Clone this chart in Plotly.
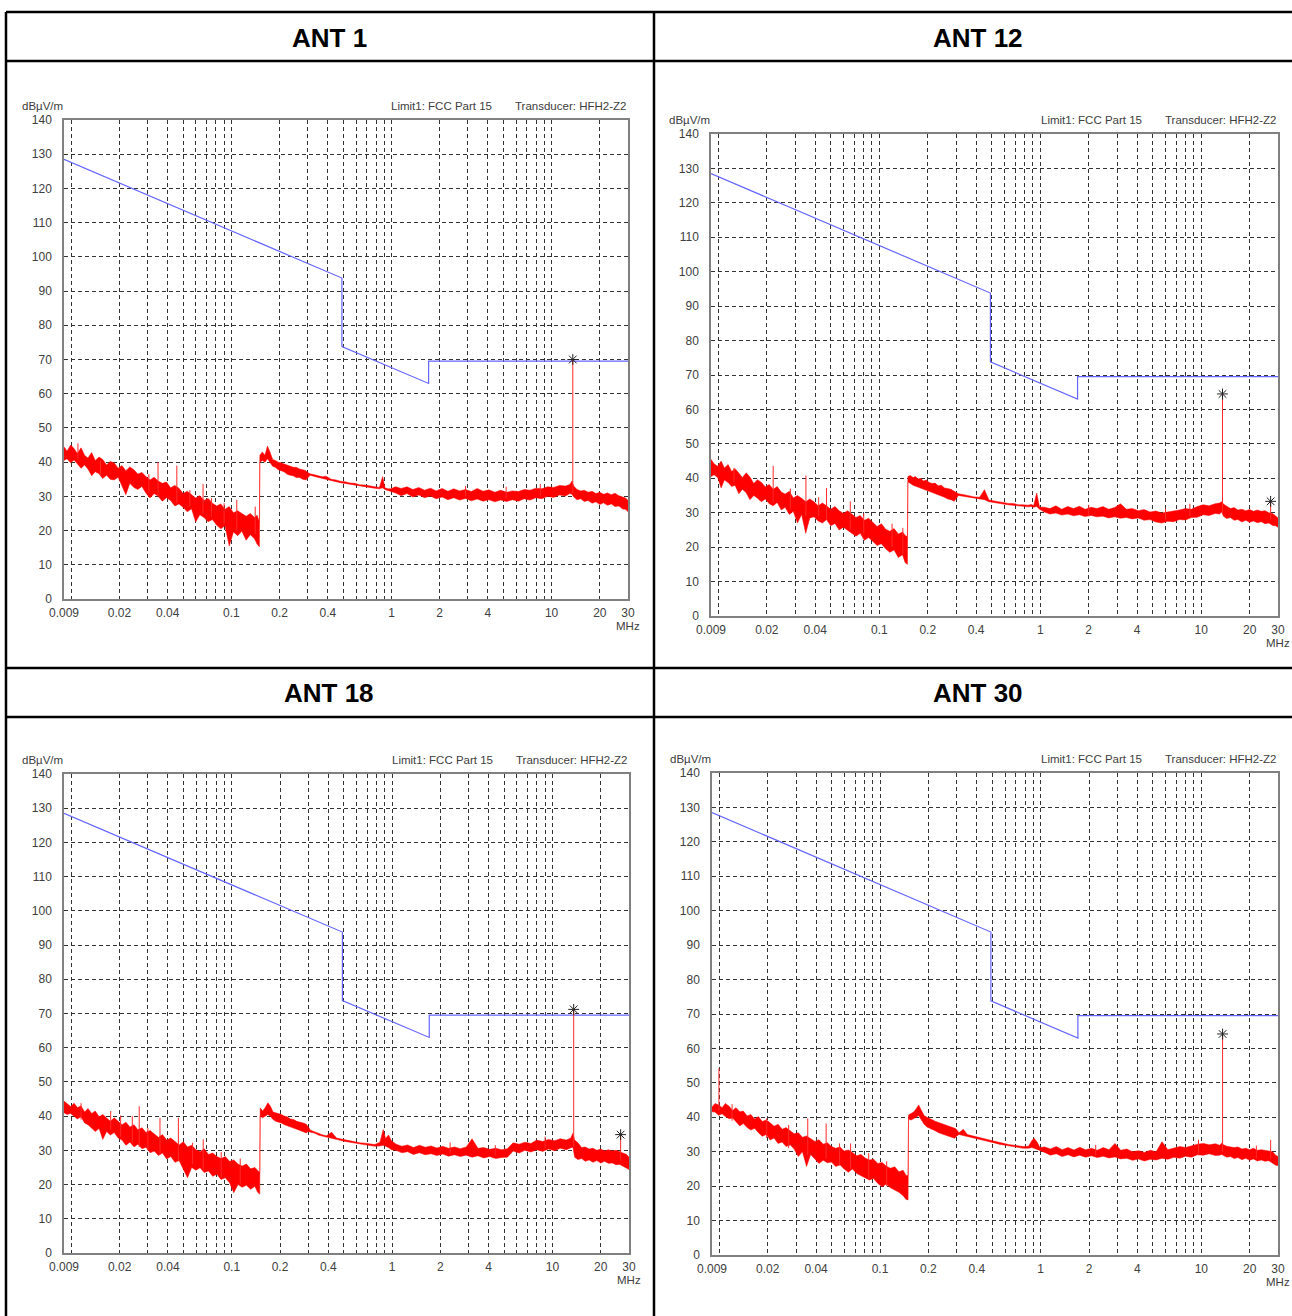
import math
import plotly.graph_objects as go

W, H = 1292, 1316

# ---------------- data ----------------
# sweep frequencies (MHz) at which the noise band envelope was read
freq_grid = [
    0.009, 0.0094, 0.0099, 0.0104, 0.0109, 0.0115, 0.0121, 0.0127, 0.0134, 0.0141,
    0.0149, 0.0157, 0.0166, 0.0175, 0.0185, 0.0196, 0.0207, 0.0219, 0.0232, 0.0246,
    0.026, 0.0276, 0.0292, 0.031, 0.0329, 0.0349, 0.037, 0.0393, 0.0417, 0.0443,
    0.047, 0.0499, 0.053, 0.0563, 0.0598, 0.0635, 0.0674, 0.0716, 0.0761, 0.0808,
    0.0858, 0.0912, 0.0969, 0.103, 0.1094, 0.1162, 0.1235, 0.1312, 0.1394, 0.1448,
    0.1495,
    0.1505, 0.156, 0.162, 0.168, 0.174, 0.181, 0.188, 0.196, 0.204, 0.213,
    0.222, 0.232, 0.243, 0.254, 0.266, 0.279, 0.292, 0.299,
    0.31, 0.33, 0.35, 0.37, 0.39, 0.42, 0.45, 0.48, 0.51, 0.55,
    0.59, 0.63, 0.68, 0.73, 0.78, 0.84, 0.88, 0.91, 0.95, 0.99,
    1.06, 1.15, 1.25, 1.36, 1.48, 1.61, 1.75, 1.9, 2.07, 2.25,
    2.45, 2.66, 2.9, 3.15, 3.43, 3.73, 4.06, 4.42, 4.81, 5.23,
    5.69, 6.19, 6.74, 7.33, 7.98, 8.68, 9.45, 10.3, 11.2, 12.2,
    13.0, 13.4,
    13.75, 14.4, 15.2, 16.0, 16.9, 17.9, 18.9, 20.0, 21.1, 22.3,
    23.6, 24.9, 26.3, 27.8, 29.0, 30.0,
]

# ANT 1 (dBuV/m) upper / lower edge of the measured trace
ant1_upper = [
    44.5, 43.2, 45.0, 44.0, 42.5, 44.2, 42.0, 41.2, 42.8, 40.5,
    41.5, 40.8, 39.2, 40.2, 39.8, 38.2, 39.0, 37.5, 38.6, 37.8,
    36.5, 37.0, 35.8, 34.8, 35.6, 34.5, 33.8, 34.2, 32.5, 33.2,
    32.4, 30.8, 31.5, 30.6, 29.5, 30.2, 28.8, 29.4, 28.0, 27.2,
    27.8, 26.2, 27.0, 25.2, 25.8, 25.0, 24.2, 25.0, 23.8, 24.5,
    22.5,
    42.0, 43.0, 42.0, 44.7, 43.0, 40.8, 40.5, 40.0, 39.8, 39.5,
    39.2, 38.8, 38.5, 38.5, 38.0, 37.8, 37.5, 37.0,
    36.6, 36.3, 35.9, 35.7, 35.9, 35.0, 34.8, 34.4, 34.3, 33.9,
    33.8, 33.4, 33.3, 33.0, 32.9, 32.6, 35.8, 32.5, 32.2, 32.2,
    32.8, 32.3, 32.8, 32.0, 32.6, 31.8, 32.4, 31.6, 32.3, 31.5,
    32.2, 31.6, 32.0, 31.4, 32.3, 31.5, 31.9, 31.2, 31.8, 31.2,
    31.6, 31.4, 32.0, 31.8, 32.4, 32.2, 32.8, 32.6, 33.2, 33.0,
    33.5, 34.5,
    33.0, 32.0, 31.6, 31.8, 31.2, 31.5, 30.8, 31.2, 30.6, 31.0,
    30.5, 30.9, 30.2, 29.8, 29.5, 28.8,
]
ant1_lower = [
    40.5, 41.0, 39.8, 40.6, 39.5, 38.2, 39.2, 38.0, 36.0, 37.2,
    36.6, 35.2, 36.2, 35.0, 34.8, 35.6, 33.2, 30.5, 33.8, 32.6,
    32.0, 32.9, 31.0, 29.5, 30.8, 30.0, 28.6, 29.6, 28.8, 27.2,
    27.8, 26.8, 25.5, 26.4, 22.5, 24.6, 23.8, 22.6, 23.2, 21.6,
    20.5, 21.4, 15.5, 19.6, 18.5, 19.8, 17.2, 18.8, 17.6, 16.0,
    15.3,
    40.0, 40.5, 40.0, 41.0, 40.0, 38.8, 38.5, 37.8, 37.5, 37.2,
    36.5, 36.2, 36.0, 35.5, 35.5, 35.0, 34.8, 35.5,
    36.2, 35.8, 35.5, 35.2, 35.0, 34.6, 34.3, 34.0, 33.8, 33.5,
    33.3, 33.0, 32.8, 32.6, 32.4, 32.2, 32.5, 32.0, 31.6, 31.5,
    31.0, 30.2, 30.8, 29.8, 30.4, 29.6, 30.1, 29.3, 29.8, 29.0,
    29.6, 28.9, 29.4, 28.7, 29.2, 28.6, 29.0, 28.4, 28.9, 28.5,
    29.0, 28.6, 29.3, 28.9, 29.6, 29.3, 30.0, 29.7, 30.4, 30.1,
    30.8, 30.6,
    29.8, 29.0, 29.3, 28.5, 28.8, 28.0, 28.4, 27.6, 28.1, 27.4,
    27.8, 27.0, 27.2, 26.3, 26.2, 25.5,
]
ant1_spike_freq = [0.011, 0.0152, 0.0305, 0.0348, 0.0456, 0.055, 0.0665, 0.075,
                   0.09, 0.108, 0.1408, 2.9, 5.2, 8.5, 13.56]
ant1_spike_base = [41.0, 36.0, 31.0, 30.0, 28.0, 27.0, 25.0, 24.0,
                   22.0, 20.0, 19.0, 30.0, 29.5, 30.0, 31.0]
ant1_spike_top = [45.5, 40.4, 36.5, 40.0, 39.0, 31.8, 33.6, 29.5,
                  28.0, 29.0, 27.0, 33.0, 32.8, 33.6, 70.0]
ant1_marker_freq = [13.56]
ant1_marker_level = [70.0]

# ANT 12
ant12_upper = [
    45.5, 44.2, 43.5, 45.0, 43.0, 44.0, 42.0, 42.8, 41.5, 40.2,
    41.6, 40.4, 38.5, 39.6, 38.8, 37.5, 38.2, 36.8, 37.6, 36.0,
    35.4, 36.2, 34.3, 35.0, 34.2, 33.2, 34.0, 33.2, 32.0, 32.8,
    32.0, 31.0, 31.8, 30.6, 29.8, 30.6, 29.6, 28.6, 29.2, 27.8,
    28.4, 27.2, 26.0, 26.8, 25.2, 24.6, 25.4, 23.8, 24.4, 23.4,
    23.0,
    40.5, 40.8, 40.2, 40.5, 39.8, 40.0, 39.2, 39.5, 38.8, 38.5,
    38.6, 37.8, 38.0, 37.2, 37.0, 36.8, 36.2, 36.0,
    35.5, 35.3, 35.0, 34.9, 34.6, 34.5, 36.7, 33.7, 33.4, 33.2,
    33.0, 32.7, 32.7, 32.3, 32.3, 32.2, 32.4, 32.1, 35.7, 31.6,
    31.6, 31.2, 32.0, 31.0, 31.8, 31.2, 31.9, 31.0, 31.6, 31.2,
    31.8, 31.0, 31.5, 32.6, 31.0, 31.2, 30.6, 30.9, 30.2, 30.5,
    29.9, 30.3, 30.5, 30.8, 31.2, 31.0, 31.8, 32.3, 32.0, 32.6,
    32.8, 33.2,
    32.5, 31.9, 31.2, 31.5, 30.8, 31.0, 30.6, 30.9, 30.4, 30.8,
    30.4, 30.6, 30.0, 29.8, 29.2, 28.5,
]
ant12_lower = [
    40.5, 41.0, 40.2, 37.2, 39.5, 38.8, 37.6, 38.0, 35.5, 36.8,
    35.8, 33.8, 35.0, 34.2, 33.2, 34.0, 32.6, 32.0, 33.0, 30.8,
    31.6, 29.5, 30.4, 27.0, 29.5, 24.0, 28.5, 28.8, 27.6, 27.0,
    28.0, 26.2, 26.9, 25.0, 25.8, 24.8, 24.0, 23.2, 24.0, 22.0,
    22.8, 21.6, 20.5, 21.0, 19.5, 18.5, 19.2, 17.0, 17.8, 15.5,
    15.0,
    39.0, 38.5, 38.0, 37.8, 37.5, 37.2, 36.8, 36.5, 36.2, 35.8,
    35.5, 35.2, 34.8, 34.5, 34.0, 33.8, 33.3, 34.0,
    35.0, 34.8, 34.6, 34.4, 34.2, 34.0, 33.8, 33.2, 33.0, 32.8,
    32.5, 32.3, 32.2, 31.9, 31.8, 31.7, 31.8, 31.6, 31.8, 31.0,
    30.2, 29.6, 29.9, 29.3, 29.6, 29.1, 29.4, 28.9, 29.2, 28.8,
    29.0, 28.5, 28.8, 28.4, 28.6, 28.2, 28.5, 27.8, 28.0, 27.3,
    27.0, 27.5, 27.4, 28.0, 27.9, 28.6, 28.7, 29.4, 29.2, 29.8,
    29.6, 30.2,
    29.0, 28.3, 28.6, 27.8, 28.0, 27.3, 27.8, 27.2, 27.6, 27.1,
    27.4, 26.8, 27.0, 26.3, 26.2, 25.8,
]
ant12_spike_freq = [0.0125, 0.0219, 0.028, 0.035, 0.042, 0.047, 0.066, 0.08,
                    0.12, 0.14, 2.0, 6.0, 8.5, 13.56, 27.0]
ant12_spike_base = [39.0, 33.0, 31.0, 29.0, 29.0, 28.0, 25.0, 24.0,
                    20.0, 18.0, 29.0, 28.0, 29.0, 30.0, 28.0]
ant12_spike_top = [43.0, 43.6, 37.0, 40.8, 34.5, 37.2, 33.3, 29.8,
                   26.8, 25.6, 32.3, 31.2, 32.6, 64.5, 33.3]
ant12_marker_freq = [13.56, 27.0]
ant12_marker_level = [64.5, 33.3]

# ANT 18
ant18_upper = [
    44.4, 43.6, 42.8, 43.8, 42.5, 43.0, 41.2, 42.2, 40.8, 41.5,
    39.8, 40.5, 39.6, 38.5, 39.5, 38.6, 37.5, 38.2, 36.8, 37.5,
    36.0, 36.6, 35.2, 35.8, 34.8, 33.8, 34.6, 33.0, 33.6, 32.6,
    31.6, 32.5, 31.0, 31.5, 30.2, 29.6, 30.5, 28.8, 29.2, 28.2,
    27.6, 28.2, 26.8, 27.2, 26.0, 25.4, 26.0, 24.6, 25.0, 24.2,
    23.5,
    42.4, 41.5, 42.5, 43.9, 43.0, 41.2, 41.0, 40.8, 40.5, 40.0,
    39.8, 39.2, 39.0, 38.5, 38.3, 38.0, 37.6, 37.0,
    35.9, 35.4, 34.9, 34.5, 34.3, 35.3, 33.6, 33.3, 33.1, 32.7,
    32.5, 32.2, 32.1, 31.8, 31.7, 32.4, 36.1, 33.5, 34.5, 32.8,
    31.8, 31.2, 31.6, 30.8, 31.5, 30.9, 31.3, 30.7, 31.2, 30.6,
    31.0, 30.5, 31.0, 33.4, 30.6, 30.8, 30.3, 30.6, 30.2, 30.5,
    32.2, 31.8, 32.4, 32.0, 33.0, 32.6, 33.2, 32.8, 33.4, 33.0,
    33.6, 35.0,
    33.0, 32.2, 30.8, 31.0, 30.4, 30.6, 30.0, 30.4, 29.8, 30.2,
    29.8, 30.0, 29.6, 29.2, 28.8, 28.0,
]
ant18_lower = [
    41.0, 40.5, 40.8, 40.0, 39.2, 39.8, 38.0, 37.5, 36.6, 35.5,
    36.4, 33.2, 35.5, 34.5, 35.2, 33.6, 33.0, 31.5, 32.4, 31.0,
    31.8, 30.5, 30.9, 29.3, 29.8, 28.5, 29.2, 27.5, 28.2, 26.5,
    27.0, 24.5, 22.0, 25.0, 24.2, 24.9, 23.5, 24.0, 22.4, 23.0,
    21.5, 22.0, 20.5, 17.6, 20.0, 19.2, 19.8, 18.6, 19.5, 17.8,
    17.2,
    40.0, 39.5, 40.0, 40.5, 40.0, 39.0, 38.5, 38.2, 38.0, 37.5,
    37.2, 36.8, 36.5, 36.2, 36.0, 35.5, 35.1, 35.5,
    35.4, 35.0, 34.4, 34.0, 33.8, 33.6, 33.2, 32.9, 32.6, 32.3,
    32.0, 31.8, 31.6, 31.4, 31.2, 31.3, 31.5, 31.2, 30.8, 30.2,
    30.0, 29.3, 29.6, 28.8, 29.3, 28.7, 29.0, 28.5, 28.9, 28.3,
    28.7, 28.2, 28.6, 28.0, 28.4, 27.8, 28.2, 27.6, 27.9, 28.0,
    29.8, 29.2, 30.0, 29.5, 30.2, 29.7, 30.4, 29.9, 30.6, 30.2,
    30.8, 31.0,
    28.0, 27.3, 27.6, 26.8, 27.2, 26.5, 27.0, 26.3, 26.8, 26.2,
    26.3, 25.8, 25.9, 25.2, 24.8, 24.4,
]
ant18_spike_freq = [0.0115, 0.0176, 0.0203, 0.024, 0.0265, 0.03, 0.0357, 0.0465,
                    0.057, 0.0664, 0.086, 0.113, 2.3, 4.4, 9.0, 13.56, 26.6]
ant18_spike_base = [39.0, 36.0, 34.0, 32.0, 31.0, 30.0, 29.0, 27.0,
                    26.0, 24.0, 22.0, 20.0, 29.0, 28.5, 30.5, 31.0, 27.0]
ant18_spike_top = [43.8, 41.5, 40.2, 40.0, 42.9, 36.5, 39.5, 39.5,
                   32.2, 33.2, 29.5, 27.6, 32.3, 31.5, 34.0, 71.2, 34.6]
ant18_marker_freq = [13.56, 26.6]
ant18_marker_level = [71.2, 34.6]

# ANT 30
ant30_upper = [
    43.0, 44.0, 43.6, 42.8, 44.0, 43.2, 42.0, 42.8, 41.6, 41.8,
    40.4, 40.8, 39.5, 40.2, 38.8, 39.2, 38.4, 37.4, 38.0, 36.5,
    37.0, 36.0, 35.2, 35.5, 34.2, 34.6, 33.8, 33.0, 33.5, 32.2,
    32.6, 31.5, 31.0, 31.4, 30.2, 30.5, 29.8, 28.8, 29.2, 28.2,
    27.6, 27.8, 26.6, 26.9, 25.8, 25.2, 25.6, 24.2, 24.6, 23.2,
    23.0,
    40.7, 41.1, 41.5, 42.5, 43.6, 42.0, 40.5, 40.0, 39.7, 39.2,
    38.8, 38.5, 38.2, 37.8, 37.5, 37.2, 36.8, 36.5,
    35.5, 36.5, 35.0, 34.7, 34.4, 34.1, 33.7, 33.4, 33.1, 32.7,
    32.4, 32.1, 31.9, 31.7, 31.5, 31.6, 33.2, 33.9, 32.8, 31.2,
    31.4, 30.8, 31.5, 30.6, 31.2, 30.5, 31.3, 30.6, 31.0, 30.4,
    31.2, 30.6, 32.4, 30.4, 30.8, 30.0, 30.3, 29.8, 30.4, 30.0,
    32.9, 30.6, 31.0, 31.5, 31.2, 31.8, 32.2, 32.4, 32.0, 32.3,
    31.9, 32.5,
    32.0, 31.6, 31.5, 31.2, 31.4, 30.8, 31.0, 30.6, 31.0, 30.4,
    30.6, 30.5, 30.2, 30.0, 29.0, 28.6,
]
ant30_lower = [
    41.6, 41.5, 40.6, 41.0, 40.2, 39.6, 39.8, 38.7, 37.5, 38.2,
    37.0, 36.3, 36.8, 35.5, 34.5, 35.0, 33.4, 34.0, 32.4, 32.8,
    31.5, 32.0, 30.8, 28.6, 30.0, 25.7, 29.2, 28.0, 26.6, 27.5,
    26.8, 27.0, 25.7, 26.2, 25.0, 24.0, 25.0, 23.7, 23.0, 22.5,
    21.8, 22.2, 20.8, 19.8, 20.6, 19.5, 18.8, 18.2, 17.2, 16.2,
    16.0,
    39.5, 39.2, 39.5, 40.0, 40.5, 39.2, 38.0, 37.2, 36.8, 36.5,
    36.0, 35.5, 35.2, 34.8, 34.5, 34.2, 33.9, 34.5,
    35.0, 34.8, 34.5, 34.2, 33.9, 33.6, 33.2, 32.9, 32.6, 32.2,
    31.9, 31.6, 31.4, 31.2, 31.0, 31.0, 31.2, 31.0, 30.8, 30.4,
    29.8, 29.0, 29.4, 28.6, 29.1, 28.5, 29.0, 28.4, 28.8, 28.3,
    28.7, 28.2, 28.5, 27.9, 28.1, 27.5, 27.9, 27.3, 27.8, 27.6,
    28.1, 27.8, 28.4, 28.1, 28.7, 28.4, 29.1, 29.0, 29.4, 28.9,
    29.0, 29.2,
    29.0, 28.4, 28.6, 28.0, 28.3, 27.7, 28.1, 27.5, 27.9, 27.3,
    27.6, 27.2, 27.4, 26.7, 26.1, 26.0,
]
ant30_spike_freq = [0.00994, 0.012, 0.0197, 0.027, 0.0355, 0.0462, 0.056, 0.0656,
                    0.085, 0.11, 2.2, 9.6, 13.56, 22.0, 27.0]
ant30_spike_base = [42.0, 39.0, 34.0, 31.0, 29.0, 28.0, 26.0, 25.0,
                    22.0, 20.0, 29.0, 29.5, 30.0, 28.0, 28.0]
ant30_spike_top = [54.2, 43.8, 39.7, 37.8, 39.7, 38.2, 32.4, 32.4,
                   29.6, 27.2, 32.0, 33.5, 64.2, 31.8, 33.4]
ant30_marker_freq = [13.56]
ant30_marker_level = [64.2]

# Limit1: FCC Part 15
limit_freq = [0.009, 0.49, 0.49, 1.705, 1.705, 30.0]
limit_level = [128.5, 93.8, 73.8, 63.0, 69.5, 69.5]

# axes
x_tick_vals = [0.009, 0.01, 0.02, 0.03, 0.04, 0.05, 0.06, 0.07, 0.08, 0.09,
               0.1, 0.2, 0.3, 0.4, 0.5, 0.6, 0.7, 0.8, 0.9,
               1, 2, 3, 4, 5, 6, 7, 8, 9, 10, 20, 30]
x_tick_text = ["0.009", "", "0.02", "", "0.04", "", "", "", "", "",
               "0.1", "0.2", "", "0.4", "", "", "", "", "",
               "1", "2", "", "4", "", "", "", "", "", "10", "20", "30"]
y_tick_vals = [0, 10, 20, 30, 40, 50, 60, 70, 80, 90, 100, 110, 120, 130, 140]
y_tick_text = ["0", "10", "20", "30", "40", "50", "60", "70", "80", "90",
               "100", "110", "120", "130", "140"]
panel_titles = ["ANT 1", "ANT 12", "ANT 18", "ANT 30"]
unit_label = "dBµV/m"
limit_label = "Limit1: FCC Part 15"
transducer_label = "Transducer: HFH2-Z2"
freq_unit = "MHz"

for arr in (ant1_upper, ant1_lower, ant12_upper, ant12_lower,
            ant18_upper, ant18_lower, ant30_upper, ant30_lower):
    assert len(arr) == len(freq_grid), len(arr)

# ---------------- layout helpers ----------------
def px(x):
    return x / W


def py(y):
    return 1 - y / H


FONT = "Liberation Sans, Arial, sans-serif"

panels = [
    dict(title=panel_titles[0], up=ant1_upper, lo=ant1_lower,
         sf=ant1_spike_freq, sb=ant1_spike_base, st=ant1_spike_top,
         mf=ant1_marker_freq, ml=ant1_marker_level,
         box=(64, 628, 120, 599), tpos=(329, 38)),
    dict(title=panel_titles[1], up=ant12_upper, lo=ant12_lower,
         sf=ant12_spike_freq, sb=ant12_spike_base, st=ant12_spike_top,
         mf=ant12_marker_freq, ml=ant12_marker_level,
         box=(711, 1278, 134, 616), tpos=(978, 38)),
    dict(title=panel_titles[2], up=ant18_upper, lo=ant18_lower,
         sf=ant18_spike_freq, sb=ant18_spike_base, st=ant18_spike_top,
         mf=ant18_marker_freq, ml=ant18_marker_level,
         box=(64, 629, 774, 1253), tpos=(329, 693)),
    dict(title=panel_titles[3], up=ant30_upper, lo=ant30_lower,
         sf=ant30_spike_freq, sb=ant30_spike_base, st=ant30_spike_top,
         mf=ant30_marker_freq, ml=ant30_marker_level,
         box=(712, 1278, 773, 1255), tpos=(978, 693)),
]

fig = go.Figure()
axes = {}
annotations = []
shapes = []

for i, p in enumerate(panels, start=1):
    xa = "x" if i == 1 else f"x{i}"
    ya = "y" if i == 1 else f"y{i}"
    left, right, top, bottom = p["box"]

    fig.add_trace(go.Scatter(
        x=limit_freq, y=limit_level, mode="lines",
        line=dict(color="#6666ff", width=1.2),
        xaxis=xa, yaxis=ya, showlegend=False, hoverinfo="skip"))

    fig.add_trace(go.Scatter(
        x=freq_grid + freq_grid[::-1], y=p["up"] + p["lo"][::-1],
        mode="lines", fill="toself", fillcolor="#ff0000",
        line=dict(color="#ff0000", width=0.5),
        xaxis=xa, yaxis=ya, showlegend=False, hoverinfo="skip"))

    sx, sy = [], []
    for f, b, t in zip(p["sf"], p["sb"], p["st"]):
        sx += [f, f, None]
        sy += [b, t, None]
    fig.add_trace(go.Scatter(
        x=sx, y=sy, mode="lines", line=dict(color="#ff2a2a", width=1),
        xaxis=xa, yaxis=ya, showlegend=False, hoverinfo="skip"))

    fig.add_trace(go.Scatter(
        x=p["mf"], y=p["ml"], mode="markers",
        marker=dict(symbol="asterisk-open", size=9, color="#222222",
                    line=dict(color="#222222", width=1.0)),
        xaxis=xa, yaxis=ya, showlegend=False, hoverinfo="skip"))

    common = dict(showgrid=True, gridcolor="#333333", gridwidth=1,
                  griddash="4px,3px", showline=True, mirror=True,
                  linecolor="#808080", linewidth=1.5, zeroline=False,
                  ticks="", tickfont=dict(family=FONT, size=12, color="#404040"))
    axes["xaxis" + ("" if i == 1 else str(i))] = dict(
        type="log", range=[math.log10(0.009), math.log10(30)],
        domain=[px(left), px(right)], anchor=ya,
        tickmode="array", tickvals=x_tick_vals, ticktext=x_tick_text,
        ticklabelstandoff=2, **common)
    axes["yaxis" + ("" if i == 1 else str(i))] = dict(
        range=[0, 140], domain=[py(bottom), py(top)], anchor=xa,
        tickmode="array", tickvals=y_tick_vals, ticktext=y_tick_text,
        ticklabelstandoff=8, **common)

    small = dict(family=FONT, size=11.5, color="#404040")
    annotations += [
        dict(text=f"<b>{p['title']}</b>", x=px(p["tpos"][0]), y=py(p["tpos"][1]),
             xref="paper", yref="paper", xanchor="center", yanchor="middle",
             showarrow=False, font=dict(family=FONT, size=26, color="#000000")),
        dict(text=unit_label, x=px(left - 44), y=py(top - 14), xref="paper", yref="paper",
             xanchor="left", yanchor="middle", showarrow=False, font=small),
        dict(text=limit_label, x=px(right - 134), y=py(top - 14), xref="paper", yref="paper",
             xanchor="right", yanchor="middle", showarrow=False, font=small),
        dict(text=transducer_label, x=px(right), y=py(top - 14), xref="paper", yref="paper",
             xanchor="right", yanchor="middle", showarrow=False, font=small),
        dict(text=freq_unit, x=px(right), y=py(bottom + 27), xref="paper", yref="paper",
             xanchor="center", yanchor="middle", showarrow=False, font=small),
    ]

# table borders
for yy in (12, 61, 668, 717):
    shapes.append(dict(type="line", xref="paper", yref="paper",
                       x0=px(6), x1=1, y0=py(yy), y1=py(yy),
                       line=dict(color="#000000", width=2.5)))
for xx in (6, 654):
    shapes.append(dict(type="line", xref="paper", yref="paper",
                       x0=px(xx), x1=px(xx), y0=py(12), y1=0,
                       line=dict(color="#000000", width=2.5)))

fig.update_layout(
    width=W, height=H, margin=dict(l=0, r=0, t=0, b=0),
    template="none", paper_bgcolor="#ffffff", plot_bgcolor="#ffffff",
    showlegend=False, annotations=annotations, shapes=shapes,
    font=dict(family=FONT), **axes)

fig.write_html("out.html", config={"displayModeBar": False},
               post_script="document.body.style.margin='0';")
